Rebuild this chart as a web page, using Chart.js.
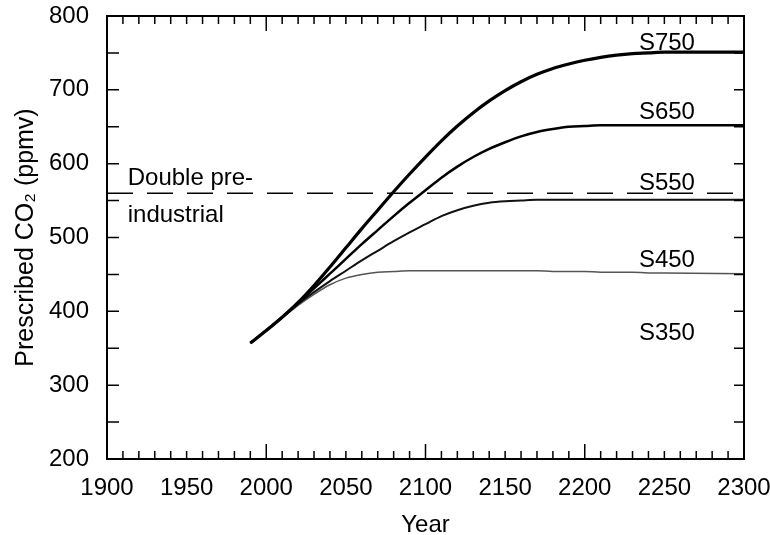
<!DOCTYPE html>
<html>
<head>
<meta charset="utf-8">
<script src="https://cdn.jsdelivr.net/npm/chart.js@4.4.1/dist/chart.umd.min.js"></script>
<style>
  html, body { margin: 0; padding: 0; background: #fff; }
  #wrap { width: 770px; height: 535px; }
</style>
</head>
<body>
<div id="wrap"><canvas id="co2Chart"></canvas></div>
<script>
// values (ppmv)
const years = [1990, 2000, 2010, 2020, 2030, 2040, 2050, 2060, 2070, 2080, 2090, 2100, 2110, 2120, 2130,
               2140, 2150, 2160, 2170, 2180, 2190, 2200, 2210, 2220, 2230, 2240, 2250, 2300];
const s750 = [357, 374, 392, 412, 435, 460, 486, 512, 537, 562, 586, 609, 631, 651, 669,
              685, 699, 711, 721, 729, 735, 740, 744, 747, 749, 750, 751, 751];
const s650 = [357, 374, 392, 411, 431, 451, 471, 491, 510, 529, 547, 564, 581, 596, 609,
              620, 629, 637, 643, 647, 650, 651, 652, 652, 652, 652, 652, 652];
const s550 = [357, 374, 392, 410, 426, 441, 455, 469, 482, 495, 507, 518, 529, 537, 543,
              547, 549, 550, 551, 551, 551, 551, 551, 551, 551, 551, 551, 551];
const s450 = [357, 374, 391, 408, 423, 436, 445, 450, 453, 454, 455, 455, 455, 455, 455,
              455, 455, 455, 455, 454, 454, 454, 453, 453, 453, 452, 452, 451];
const doublePreIndustrial = 560;
const curveNames = ['S750', 'S650', 'S550', 'S450', 'S350'];

const FONT = '"Liberation Sans", Arial, Helvetica, sans-serif';
const toPoints = vals => vals.map((v, i) => ({ x: years[i], y: v }));

// inward ticks on all four sides plus the box
const axisFrame = {
  id: 'axisFrame',
  afterDraw(chart) {
    const { ctx, chartArea: a, scales: { x, y } } = chart;
    ctx.save();
    ctx.strokeStyle = '#000';
    ctx.lineWidth = 1.5;
    ctx.beginPath();
    x.ticks.forEach(t => {
      const px = x.getPixelForValue(t.value);
      const len = t.value % 100 === 0 ? 15 : 8;
      ctx.moveTo(px, a.bottom); ctx.lineTo(px, a.bottom - len);
      ctx.moveTo(px, a.top); ctx.lineTo(px, a.top + len);
    });
    y.ticks.forEach(t => {
      const py = y.getPixelForValue(t.value);
      ctx.moveTo(a.left, py); ctx.lineTo(a.left + 12, py);
      ctx.moveTo(a.right, py); ctx.lineTo(a.right - 10, py);
    });
    ctx.stroke();
    ctx.lineWidth = 2;
    ctx.strokeRect(a.left, a.top, a.right - a.left, a.bottom - a.top);
    ctx.restore();
  }
};

// curve names and the "double pre-industrial" note
const curveText = {
  id: 'curveText',
  afterDatasetsDraw(chart) {
    const { ctx, scales: { x, y } } = chart;
    const spots = [754, 660, 564, 460, 361];
    ctx.save();
    ctx.fillStyle = '#000';
    ctx.font = '24px ' + FONT;
    ctx.textBaseline = 'alphabetic';
    ctx.textAlign = 'left';
    curveNames.forEach((name, i) => {
      ctx.fillText(name, x.getPixelForValue(2234), y.getPixelForValue(spots[i]));
    });
    ctx.fillText('Double pre-', x.getPixelForValue(1913), y.getPixelForValue(571));
    ctx.fillText('industrial', x.getPixelForValue(1913), y.getPixelForValue(521));
    ctx.restore();
  }
};

const line = (label, vals, width, color) => ({
  label,
  data: toPoints(vals),
  borderColor: color,
  borderWidth: width,
  pointRadius: 0,
  fill: false,
  cubicInterpolationMode: 'monotone'
});

new Chart(document.getElementById('co2Chart'), {
  type: 'line',
  data: {
    datasets: [
      {
        label: 'Double pre-industrial',
        data: [{ x: 1900, y: doublePreIndustrial }, { x: 2300, y: doublePreIndustrial }],
        borderColor: '#000',
        borderWidth: 1.6,
        borderDash: [26, 14],
        pointRadius: 0,
        fill: false
      },
      line('S750', s750, 3.2, '#000'),
      line('S650', s650, 2.5, '#000'),
      line('S550', s550, 2, '#111'),
      line('S450', s450, 1.5, '#555')
    ]
  },
  options: {
    responsive: true,
    maintainAspectRatio: false,
    animation: false,
    layout: { padding: { left: 0, right: 26, top: 16, bottom: 0 } },
    plugins: { legend: { display: false }, tooltip: { enabled: false } },
    scales: {
      x: {
        type: 'linear',
        min: 1900,
        max: 2300,
        afterFit: s => { s.height = 76; s.paddingLeft = 0; s.paddingRight = 0; },
        grid: { display: false },
        border: { display: false },
        ticks: {
          stepSize: 10,
          autoSkip: false,
          maxRotation: 0,
          padding: 7,
          color: '#000',
          font: { family: FONT, size: 24 },
          callback: v => (v % 50 === 0 ? v : '')
        },
        title: {
          display: true,
          text: 'Year',
          color: '#000',
          font: { family: FONT, size: 24 },
          padding: { top: 4, bottom: -5 }
        }
      },
      y: {
        min: 200,
        max: 800,
        afterFit: s => { s.width = 107; s.paddingTop = 0; s.paddingBottom = 0; },
        grid: { display: false },
        border: { display: false },
        ticks: {
          stepSize: 50,
          autoSkip: false,
          padding: 10,
          color: '#000',
          font: { family: FONT, size: 24 },
          callback: v => (v % 100 === 0 ? v : '')
        },
        title: {
          display: true,
          text: 'Prescribed CO₂ (ppmv)',
          color: '#000',
          font: { family: FONT, size: 25 },
          padding: { top: 11, bottom: 4 }
        }
      }
    }
  },
  plugins: [curveText, axisFrame]
});
</script>
</body>
</html>
